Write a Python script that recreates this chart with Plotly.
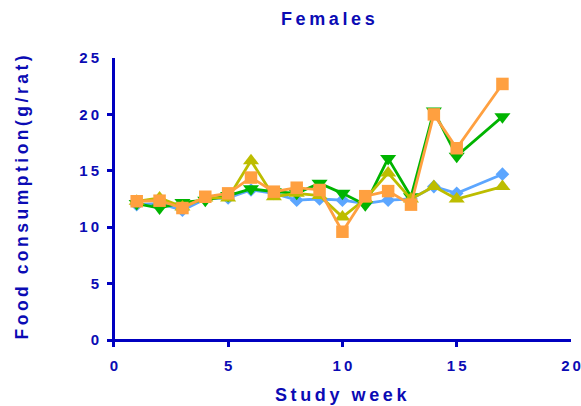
import plotly.graph_objects as go

# Weekly food consumption per rat, females (g/rat)
weeks = [1, 2, 3, 4, 5, 6, 7, 8, 9, 10, 11, 12, 13, 14, 15, 17]
group_blue = [12.0, 12.1, 11.5, 12.5, 12.6, 13.3, 13.0, 12.4, 12.5, 12.4, 12.1, 12.4, 12.5, 13.6, 13.0, 14.7]
group_green = [12.1, 11.7, 12.2, 12.4, 12.8, 13.4, 13.15, 13.0, 13.9, 13.0, 12.0, 16.1, 12.7, 20.3, 16.3, 19.8]
group_olive = [12.3, 12.6, 11.8, 12.6, 12.6, 15.9, 12.7, 13.0, 12.8, 10.9, 12.5, 14.8, 12.5, 13.6, 12.5, 13.6]
group_orange = [12.3, 12.35, 11.7, 12.7, 13.0, 14.4, 13.15, 13.5, 13.3, 9.6, 12.75, 13.2, 12.0, 20.0, 17.0, 22.7]

x_tick_vals = [0, 5, 10, 15, 20]
x_tick_text = ["0", "5", "10", "15", "20"]
y_tick_vals = [0, 5, 10, 15, 20, 25]
y_tick_text = ["0", "5", "10", "15", "20", "25"]

AXIS_BLUE = "#0000C0"
TEXT_BLUE = "#0B0BB4"
FONT = "Liberation Sans"
THIN = "\u2009"


def spaced(s):
    """Widen letter spacing with thin spaces between characters."""
    return THIN.join(s)


series = [
    (group_blue, "#5CA6FF", "diamond", 10.5),
    (group_green, "#00B400", "triangle-down", 14),
    (group_olive, "#BDBD00", "triangle-up", 14),
    (group_orange, "#FFA040", "square", 12.5),
]

fig = go.Figure()
for vals, color, symbol, size in series:
    fig.add_trace(go.Scatter(
        x=weeks, y=vals, mode="lines+markers",
        line=dict(color=color, width=2.8),
        marker=dict(symbol=symbol, size=size, color=color, line=dict(width=0)),
        showlegend=False, cliponaxis=False,
    ))

axis_common = dict(
    showgrid=False, showline=False, automargin=False,
    zeroline=True, zerolinecolor=AXIS_BLUE, zerolinewidth=2.8,
    ticks="inside", ticklen=7, tickwidth=2.8, tickcolor=AXIS_BLUE,
    tickfont=dict(family=FONT, size=15, color=TEXT_BLUE, weight="bold"),
    tickmode="array",
)

fig.update_xaxes(
    range=[-0.3, 20], tickvals=x_tick_vals,
    ticktext=[spaced(t) for t in x_tick_text],
    ticklabelstandoff=8, **axis_common,
)
fig.update_yaxes(
    range=[-0.62, 25], tickvals=y_tick_vals,
    ticktext=[spaced(t) for t in y_tick_text],
    ticklabelstandoff=7, **axis_common,
)

title_font = dict(family=FONT, size=18, color=TEXT_BLUE, weight="bold")

fig.update_layout(
    width=581, height=406,
    margin=dict(l=107, r=10, t=58, b=59),
    paper_bgcolor="white", plot_bgcolor="white",
    annotations=[
        dict(text=spaced("Females"), x=328, y=18.5, xref="paper", yref="paper",
             showarrow=False, font=title_font, xanchor="center", yanchor="middle"),
        dict(text=spaced("Study week"), x=341, y=395, xref="paper", yref="paper",
             showarrow=False, font=title_font, xanchor="center", yanchor="middle"),
        dict(text=spaced("Food consumption(g/rat)"), x=21, y=197.5, xref="paper", yref="paper",
             showarrow=False, font=dict(title_font, size=17.5), textangle=-90,
             xanchor="center", yanchor="middle"),
    ],
)

# Convert pixel positions of the annotations into paper coordinates
pw = 581 - 107 - 10
ph = 406 - 58 - 59
for ann in fig.layout.annotations:
    ann.x = (ann.x - 107) / pw
    ann.y = (406 - 59 - ann.y) / ph

fig.write_html("out.html")
